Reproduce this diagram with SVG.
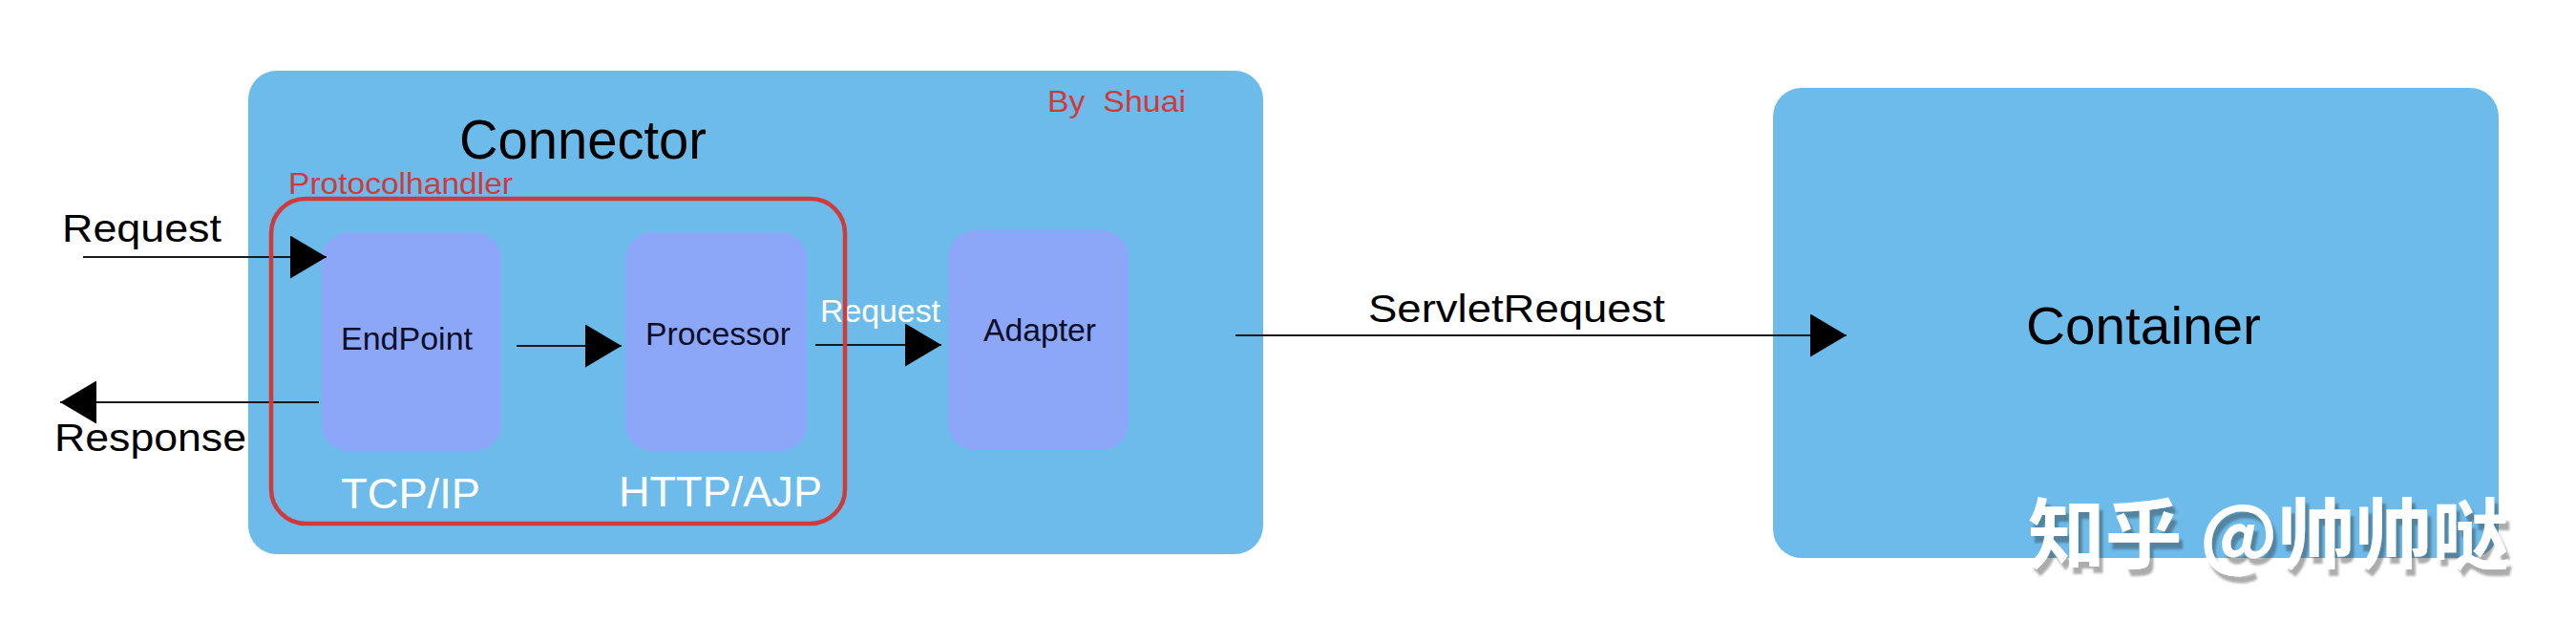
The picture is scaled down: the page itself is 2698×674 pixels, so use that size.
<svg xmlns="http://www.w3.org/2000/svg" width="2698" height="674" viewBox="0 0 2698 674">
  <style>
    .outer { fill: #6cbbea; }
    .inner { fill: #8ca7f8; }
    .txt { font-family: "Liberation Sans", Arial, Helvetica, sans-serif; }
    .lbl { font-size: 34px; fill: #0d0d26; }
    .wlbl { font-size: 45px; fill: #ffffff; }
    .ext { font-size: 41px; fill: #000000; }
    .red { fill: #cf3a3b; }
    .conn { stroke: #1a1a1a; stroke-width: 2; fill: none; marker-end: url(#arrow); }
    .wm { font-family: "Noto Sans CJK SC", "Noto Sans CJK JP", sans-serif; font-size: 80px; font-weight: bold; fill: #ffffff; }
  </style>
  <defs>
    <marker id="arrow" markerUnits="userSpaceOnUse" markerWidth="38" markerHeight="45" viewBox="0 0 38 45" refX="38" refY="22.5" orient="auto">
      <path d="M0,0 L38,22.5 L0,45 Z" fill="#000000"/>
    </marker>
    <filter id="shadow" x="-5%" y="-20%" width="115%" height="150%">
      <feDropShadow dx="4" dy="7" stdDeviation="1.2" flood-color="#333333" flood-opacity="0.4"/>
    </filter>
  </defs>
  <rect width="2698" height="674" fill="#ffffff"/>

  <g id="connector">
    <rect class="outer" x="260" y="74" width="1063" height="506" rx="30"/>
    <text class="txt" x="481" y="166" font-size="58" textLength="259" lengthAdjust="spacingAndGlyphs">Connector</text>
    <text class="txt red" x="1097" y="117" font-size="32" textLength="145" lengthAdjust="spacingAndGlyphs" xml:space="preserve">By  Shuai</text>
  </g>

  <g id="container">
    <rect class="outer" x="1857" y="92" width="760" height="492" rx="30"/>
    <text class="txt" x="2122" y="360" font-size="56" textLength="246" lengthAdjust="spacingAndGlyphs">Container</text>
  </g>

  <g id="endpoint">
    <rect class="inner" x="337" y="243" width="188" height="229" rx="28"/>
    <text class="txt lbl" x="357" y="366" textLength="138" lengthAdjust="spacingAndGlyphs">EndPoint</text>
    <text class="txt wlbl" x="357" y="532" textLength="146" lengthAdjust="spacingAndGlyphs">TCP/IP</text>
  </g>

  <g id="processor">
    <rect class="inner" x="655" y="243" width="190" height="229" rx="28"/>
    <text class="txt lbl" x="676" y="361" textLength="152" lengthAdjust="spacingAndGlyphs">Processor</text>
    <text class="txt wlbl" x="648" y="530" textLength="213" lengthAdjust="spacingAndGlyphs">HTTP/AJP</text>
  </g>

  <g id="adapter">
    <rect class="inner" x="993" y="241" width="189" height="230" rx="28"/>
    <text class="txt lbl" x="1030" y="357" textLength="118" lengthAdjust="spacingAndGlyphs">Adapter</text>
  </g>

  <g id="connectors">
    <line class="conn" x1="87" y1="269" x2="342" y2="269"/>
    <text class="txt ext" x="65" y="253" textLength="167" lengthAdjust="spacingAndGlyphs">Request</text>
    <line class="conn" x1="334" y1="421" x2="63" y2="421"/>
    <text class="txt ext" x="57" y="472" font-size="40" textLength="201" lengthAdjust="spacingAndGlyphs">Response</text>
    <line class="conn" x1="541" y1="362" x2="651" y2="362"/>
    <line class="conn" x1="854" y1="361" x2="986" y2="361"/>
    <text class="txt" x="859" y="337" font-size="34" fill="#ffffff" textLength="126" lengthAdjust="spacingAndGlyphs">Request</text>
    <line class="conn" x1="1294" y1="351" x2="1934" y2="351"/>
    <text class="txt ext" x="1433" y="337" font-size="42" textLength="311" lengthAdjust="spacingAndGlyphs">ServletRequest</text>
  </g>

  <g id="protocolhandler">
    <rect x="284" y="208" width="601" height="340" rx="36" fill="none" stroke="#cf3a3b" stroke-width="4.5"/>
    <text class="txt red" x="302" y="203" font-size="32" textLength="235" lengthAdjust="spacingAndGlyphs">Protocolhandler</text>
  </g>

  <g id="watermark">
    <text class="wm" x="2124" y="588" textLength="504" lengthAdjust="spacingAndGlyphs" filter="url(#shadow)" xml:space="preserve">知乎 @帅帅哒</text>
  </g>
</svg>
